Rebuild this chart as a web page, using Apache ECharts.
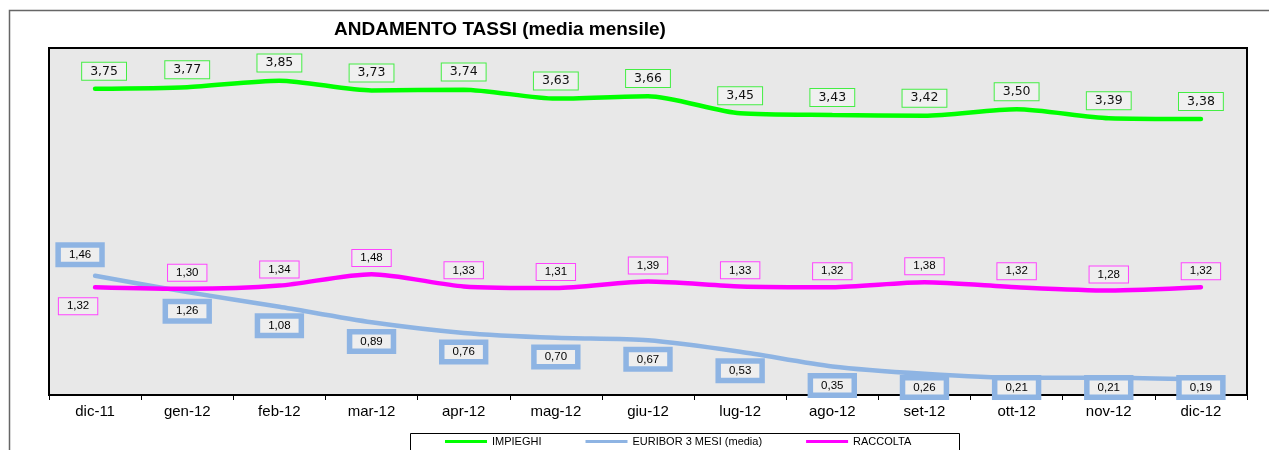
<!DOCTYPE html>
<html>
<head>
<meta charset="utf-8">
<script src="https://cdn.jsdelivr.net/npm/echarts@6/dist/echarts.min.js"></script>
<style>
html,body{margin:0;padding:0;background:#fff;}
#chart{width:1269px;height:450px;}
</style>
</head>
<body>
<div id="chart"></div>
<script>
var categories = ['dic-11','gen-12','feb-12','mar-12','apr-12','mag-12','giu-12','lug-12','ago-12','set-12','ott-12','nov-12','dic-12'];
var impieghi = [3.75,3.77,3.85,3.73,3.74,3.63,3.66,3.45,3.43,3.42,3.50,3.39,3.38];
var euribor  = [1.46,1.26,1.08,0.89,0.76,0.70,0.67,0.53,0.35,0.26,0.21,0.21,0.19];
var raccolta = [1.32,1.30,1.34,1.48,1.33,1.31,1.39,1.33,1.32,1.38,1.32,1.28,1.32];
var seriesNames = ['IMPIEGHI','EURIBOR 3 MESI (media)','RACCOLTA'];
var titleText = 'ANDAMENTO TASSI (media mensile)';

function fmt(p){ return p.value.toFixed(2).replace('.', ','); }

function withFirst(arr, firstLabel){
  return arr.map(function(v,i){ return i===0 ? {value:v, label:firstLabel} : v; });
}

var chart = echarts.init(document.getElementById('chart'));
var option = {
  animation:false,
  backgroundColor:'#ffffff',
  title:{
    text:titleText, left:329, top:15,
    textStyle:{fontFamily:'Liberation Sans, Arial', fontWeight:'bold', fontSize:19, color:'#000'}
  },
  graphic:[
    {type:'rect', shape:{x:9.5,y:10.5,width:1300,height:500}, style:{fill:null, stroke:'#666', lineWidth:1.5}, silent:true, z:-1},
    {type:'rect', shape:{x:410.5,y:433.5,width:549,height:40}, style:{fill:null, stroke:'#000', lineWidth:1}, silent:true}
  ],
  legend:{
    left:445, top:436, padding:0,
    itemWidth:42, itemHeight:3, itemGap:44, icon:'rect',
    textStyle:{fontFamily:'Liberation Sans, Arial', fontSize:11, color:'#000'},
    data:seriesNames
  },
  grid:{
    left:49, top:48, right:22, bottom:55,
    show:true, backgroundColor:'#e8e8e8', borderColor:'#000', borderWidth:2
  },
  xAxis:{
    type:'category', data:categories, boundaryGap:true,
    axisLine:{lineStyle:{color:'#000', width:2}},
    axisTick:{show:true, length:5, lineStyle:{color:'#000', width:1}},
    axisLabel:{margin:9, fontFamily:'Liberation Sans, Arial', fontSize:15, color:'#000'}
  },
  yAxis:{
    type:'value', min:0, max:4.25, show:false, splitLine:{show:false}
  },
  series:[
    {
      name:seriesNames[0], type:'line', smooth:0.25, symbol:'circle', symbolSize:0.1, showSymbol:true,
      data:withFirst(impieghi, {offset:[9,0]}),
      lineStyle:{color:'#00ff00', width:4.5, cap:'round'},
      itemStyle:{color:'#00ff00'},
      label:{show:true, position:'top', distance:9, formatter:fmt,
        fontFamily:'DejaVu Sans', fontSize:12.5, color:'#111',
        backgroundColor:'#f0f0f0', borderColor:'#44ee44', borderWidth:1, padding:[2,8,2,8]}
    },
    {
      name:seriesNames[1], type:'line', smooth:0.25, symbol:'circle', symbolSize:0.1, showSymbol:true,
      data:withFirst(euribor, {position:'top', distance:14}),
      lineStyle:{color:'#8eb4e3', width:4.5, cap:'round'},
      itemStyle:{color:'#8eb4e3'},
      label:{show:true, position:'bottom', distance:12, formatter:fmt,
        fontFamily:'Liberation Sans, Arial', fontSize:11.5, color:'#000',
        backgroundColor:'#eeeeee', borderColor:'#8eb4e3', borderWidth:5.5, padding:[1,8,1,8]},
      labelLayout:function(p){
        var out = {};
        if (p.dataIndex === 0) { out.dx = -15; }
        var r = p.labelRect;
        var limit = 400;
        if (r && r.y + r.height > limit) { out.dy = limit - (r.y + r.height); }
        return out;
      }
    },
    {
      name:seriesNames[2], type:'line', smooth:0.25, symbol:'circle', symbolSize:0.1, showSymbol:true,
      data:withFirst(raccolta, {position:'bottom', distance:11, offset:[-17,0]}),
      lineStyle:{color:'#ff00ff', width:4.5, cap:'round'},
      itemStyle:{color:'#ff00ff'},
      label:{show:true, position:'top', distance:8, formatter:fmt,
        fontFamily:'Liberation Sans, Arial', fontSize:11.5, color:'#000',
        backgroundColor:'#eeeeee', borderColor:'#ff44ff', borderWidth:1, padding:[2,8,2,8]}
    }
  ]
};
chart.setOption(option);
</script>
</body>
</html>
